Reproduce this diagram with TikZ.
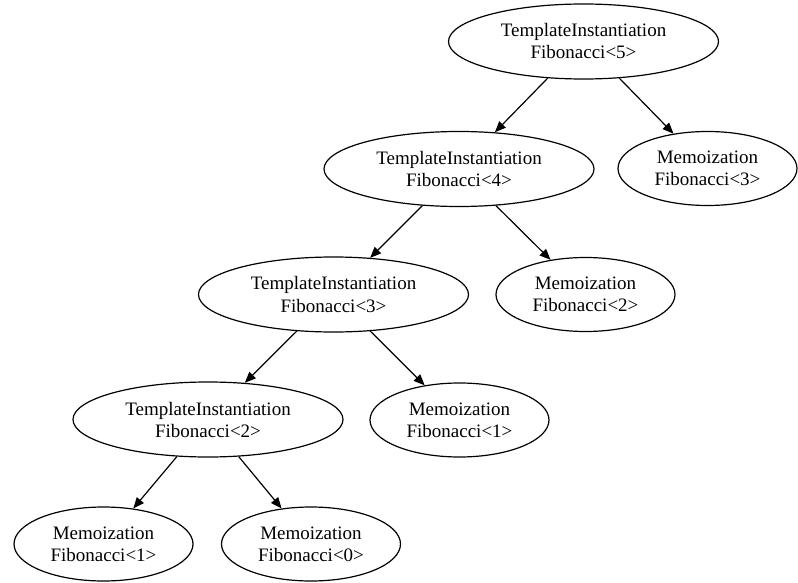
\documentclass[tikz,border=0pt]{standalone}
\usepackage{fontspec}
\setmainfont{Liberation Serif}
\usetikzlibrary{shapes.geometric,arrows.meta}
\tikzset{
  base/.style={ellipse,draw,line width=1.2pt,inner sep=0pt,align=center,
    font=\fontsize{19pt}{22pt}\selectfont},
  tinst/.style={base,minimum width=270pt,minimum height=75pt},
  memo/.style={base,minimum width=179pt,minimum height=74pt},
  edge/.style={draw,line width=1.2pt,-{Triangle[length=11pt,width=9pt]}}
}
\begin{document}
\begin{tikzpicture}[x=1pt,y=-1pt]
\useasboundingbox (0,0) rectangle (798,583);
\node[tinst] (t5) at (583.5,41.5) {TemplateInstantiation\\Fibonacci<5>};
\node[memo]  (m3) at (707.5,168.5) {Memoization\\Fibonacci<3>};
\node[tinst] (t4) at (459,169) {TemplateInstantiation\\Fibonacci<4>};
\node[tinst] (t3) at (333.5,294.5) {TemplateInstantiation\\Fibonacci<3>};
\node[memo]  (m2) at (585.5,294.5) {Memoization\\Fibonacci<2>};
\node[tinst] (t2) at (208,419.5) {TemplateInstantiation\\Fibonacci<2>};
\node[memo]  (m1a) at (459.5,420) {Memoization\\Fibonacci<1>};
\node[memo]  (m1b) at (103.5,544) {Memoization\\Fibonacci<1>};
\node[memo]  (m0) at (311,544) {Memoization\\Fibonacci<0>};
\path[edge] (t5) -- (t4);
\path[edge] (t5) -- (m3);
\path[edge] (t4) -- (t3);
\path[edge] (t4) -- (m2);
\path[edge] (t3) -- (t2);
\path[edge] (t3) -- (m1a);
\path[edge] (t2) -- (m1b);
\path[edge] (t2) -- (m0);
\end{tikzpicture}
\end{document}
